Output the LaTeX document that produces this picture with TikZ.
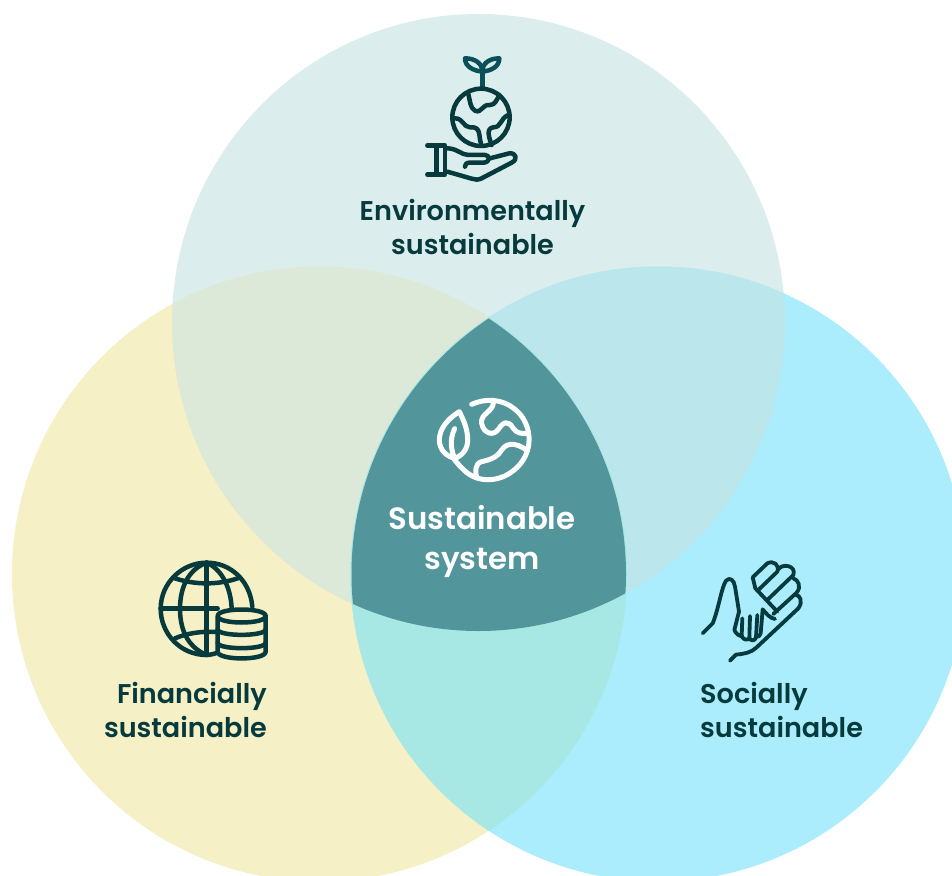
\documentclass[tikz,border=0pt]{standalone}
\usepackage{fontspec}
\setmainfont{Poppins SemiBold}
\definecolor{ink}{HTML}{063A3C}
\definecolor{sprout}{HTML}{0B4F58}
\definecolor{ctop}{HTML}{DCEDED}
\definecolor{cleft}{HTML}{F5F0C5}
\definecolor{cright}{HTML}{ABEDFC}
\definecolor{ctl}{HTML}{DCE8D8}
\definecolor{ctr}{HTML}{BBE6EC}
\definecolor{clr}{HTML}{A8E8E4}
\definecolor{cmid}{HTML}{52959B}
\tikzset{
  label text/.style={align=center,text=ink,font=\fontsize{27.1}{34}\selectfont,inner sep=0pt},
  mid text/.style={align=center,text=white,font=\fontsize{30.8}{40}\selectfont,inner sep=0pt},
  icon/.style={draw=ink,line width=4.5pt,line cap=round,line join=round,fill=none},
  thin icon/.style={icon,line width=3.8pt},
  white icon/.style={icon,draw=white,line width=5pt},
}
\def\Ctop{(478.5,322.5) ellipse[x radius=306.5,y radius=308.5]}
\def\Cleft{(319.5,574) circle[radius=307.5]}
\def\Cright{(658,574) circle[radius=307.5]}
\def\CleftIn{(319.5,574) circle[radius=306.5]}
\def\CrightIn{(658,574) circle[radius=306.5]}
\begin{document}
\begin{tikzpicture}[x=1pt,y=-1pt]
\useasboundingbox (0,0) rectangle (952,875);
\clip (0,0) rectangle (952,875);
\fill[white] (0,0) rectangle (952,875);
\fill[ctop] \Ctop;
\fill[cleft] \Cleft;
\fill[cright] \Cright;
\begin{scope}\clip \Ctop; \fill[ctl] \Cleft; \fill[ctr] \Cright; \end{scope}
\begin{scope}\clip \Cleft; \fill[clr] \Cright; \end{scope}
\begin{scope}\clip \Ctop; \clip \CleftIn; \fill[cmid] \CrightIn; \end{scope}

% environment icon
\begin{scope}[shift={(410,40)},x=.3333pt,y=-.3333pt]
\draw[icon,draw=sprout] (217,142)--(217,95);
\draw[icon,draw=sprout] (217,95) .. controls (190,92) and (165,80) .. (165,55) .. controls (195,55) and (217,70) .. (217,95);
\draw[icon,draw=sprout] (217,95) .. controls (244,92) and (268,80) .. (268,55) .. controls (238,55) and (217,70) .. (217,95);
\draw[icon] (213,232) circle[radius=86];
\draw[icon] (175,162) .. controls (180,180) and (180,205) .. (195,212) .. controls (215,222) and (215,192) .. (240,195) .. controls (255,195) and (260,180) .. (268,165);
\draw[icon] (135,235) .. controls (160,235) and (160,262) .. (180,262) .. controls (215,258) and (205,290) .. (213,310);
\draw[icon] (295,225) .. controls (270,235) and (275,262) .. (250,262) .. controls (225,265) and (240,300) .. (245,315);
\draw[icon] (52,317)--(105,317)--(105,403)--(52,403);
\draw[icon] (80,317)--(80,403);
\draw[icon] (112,325) .. controls (140,325) and (155,345) .. (175,345) -- (225,345) .. controls (240,345) and (242,365) .. (222,368) -- (178,368) .. controls (168,368) and (165,375) .. (165,380);
\draw[icon] (240,355) -- (298,340) .. controls (318,338) and (325,358) .. (305,368) -- (215,415) .. controls (205,420) and (195,420) .. (185,416) -- (112,395);
\end{scope}

% central icon
\begin{scope}[shift={(430,390)},x=.3333pt,y=-.3333pt]
\draw[white icon] (125,43) .. controls (165,25) and (215,25) .. (255,58) .. controls (295,90) and (310,150) .. (285,200) .. controls (260,250) and (195,285) .. (135,262) .. controls (110,252) and (90,230) .. (72,207);
\draw[white icon] (190,35) .. controls (192,65) and (150,70) .. (155,100) .. controls (160,130) and (190,140) .. (205,118) .. controls (220,95) and (235,90) .. (250,115) .. controls (260,130) and (275,132) .. (295,130);
\draw[white icon] (292,182) .. controls (270,165) and (235,150) .. (215,180) .. controls (200,205) and (175,210) .. (155,215) .. controls (135,220) and (135,245) .. (140,262);
\draw[white icon] (88,65) .. controls (55,85) and (28,115) .. (28,150) .. controls (28,180) and (50,200) .. (75,205) .. controls (100,195) and (113,175) .. (113,150) .. controls (113,115) and (100,90) .. (88,65) -- cycle;
\draw[white icon] (74,116) .. controls (62,140) and (60,170) .. (72,200);
\end{scope}

% finance icon
\begin{scope}[shift={(145,550)},x=.3333pt,y=-.3333pt]
\draw[icon] (212,310) .. controls (205,312) and (195,315) .. (185,315) .. controls (105,315) and (47,250) .. (47,176) .. controls (47,100) and (110,38) .. (185,38) .. controls (255,38) and (315,90) .. (322,170);
\draw[icon] (47,176)--(218,176);
\draw[icon] (185,38)--(185,315);
\draw[icon] (185,38) .. controls (125,60) and (105,120) .. (105,176) .. controls (105,235) and (125,290) .. (185,315);
\draw[icon] (185,38) .. controls (235,60) and (258,120) .. (260,176);
\draw[icon] (90,85) .. controls (150,105) and (220,105) .. (278,85);
\draw[icon] (90,265) .. controls (125,250) and (170,243) .. (212,246);
% database
\draw[icon] (218,198) .. controls (218,172) and (362,172) .. (362,198) .. controls (362,224) and (218,224) .. (218,198) -- (218,305) .. controls (218,332) and (362,332) .. (362,305) -- (362,198);
\draw[icon] (218,238) .. controls (218,260) and (362,260) .. (362,238);
\draw[icon] (218,278) .. controls (218,300) and (362,300) .. (362,278);
\end{scope}

% social icon
\begin{scope}[shift={(690,550)},x=.3333pt,y=-.3333pt]
\draw[thin icon] (38,250) -- (68,220) .. controls (85,180) and (95,110) .. (108,92) .. controls (120,80) and (132,90) .. (135,110) .. controls (140,140) and (143,160) .. (147,185) -- (133,240);
\draw[thin icon] (133,240) .. controls (138,252) and (148,258) .. (155,258) -- (157,205);
\draw[thin icon] (155,258) .. controls (160,270) and (172,272) .. (178,265) -- (180,198);
\draw[thin icon] (178,265) .. controls (185,275) and (195,272) .. (198,262) -- (202,195);
\draw[thin icon] (198,260) .. controls (205,262) and (210,258) .. (212,250) -- (218,178);
\draw[thin icon] (218,178) .. controls (228,190) and (240,205) .. (255,207);
\draw[thin icon] (120,332) -- (138,314) .. controls (160,312) and (185,308) .. (200,292) -- (325,175) .. controls (340,155) and (330,135) .. (318,135);
\draw[thin icon] (188,82) -- (232,40) .. controls (250,30) and (270,45) .. (262,65) -- (205,120);
\draw[thin icon] (188,82) -- (196,115) -- (262,185);
\draw[thin icon] (265,58) .. controls (275,40) and (320,45) .. (310,75) -- (232,150);
\draw[thin icon] (310,85) .. controls (325,90) and (335,110) .. (320,128) -- (250,192);
\end{scope}

\node[label text,anchor=center] (env) at (472.5,226.5) {Environmentally\\sustainable};
\node[label text,align=right,anchor=east] (fin) at (267,710) {Financially\\sustainable};
\node[label text,align=left,anchor=west] (soc) at (700,710) {Socially\\sustainable};
\node[mid text,anchor=center] (mid) at (482,541) {Sustainable\\system};
\end{tikzpicture}
\end{document}
